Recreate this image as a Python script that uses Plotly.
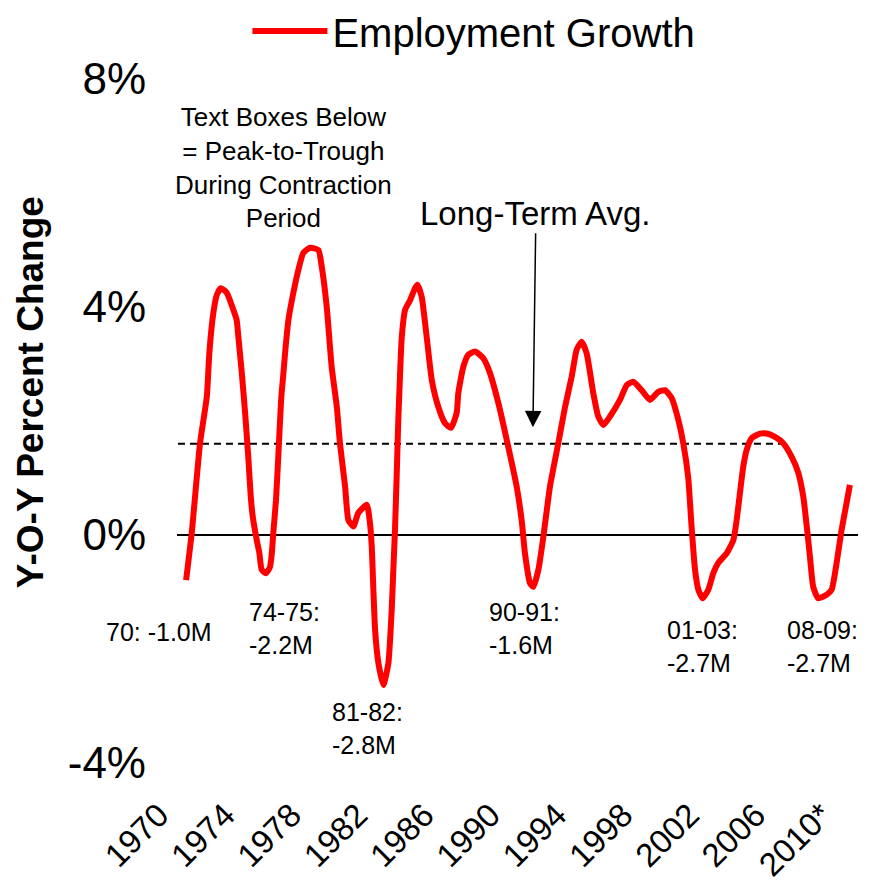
import plotly.graph_objects as go

# Year-over-year employment growth (%)
years = [
    1970.55, 1970.89, 1971.39, 1971.80, 1971.95, 1972.19, 1972.40, 1972.64, 1973.00, 1973.40,
    1973.60, 1973.70, 1973.91, 1974.11, 1974.30, 1974.45, 1974.57, 1974.81, 1974.97, 1975.11,
    1975.37, 1975.61, 1975.72, 1975.81, 1975.97, 1976.11, 1976.28, 1976.42, 1976.52, 1976.72,
    1977.02, 1977.32, 1977.62, 1978.03, 1978.53, 1978.73, 1979.03, 1979.33, 1979.64, 1979.83,
    1980.14, 1980.34, 1980.64, 1980.94, 1981.45, 1981.64, 1981.75, 1981.84, 1981.95, 1982.15,
    1982.45, 1982.75, 1982.95, 1983.05, 1983.15, 1983.25, 1983.35, 1983.45, 1983.56, 1983.76,
    1984.06, 1984.36, 1984.50, 1984.76, 1985.06, 1985.37, 1985.76, 1986.17, 1986.53, 1986.87,
    1986.97, 1987.27, 1987.57, 1987.98, 1988.48, 1988.88, 1989.38, 1989.89, 1990.49, 1990.79,
    1990.99, 1991.29, 1991.49, 1991.80, 1992.10, 1992.50, 1993.00, 1993.41, 1993.81, 1994.11,
    1994.41, 1994.71, 1995.11, 1995.41, 1995.72, 1996.12, 1996.72, 1997.13, 1997.53, 1998.03,
    1998.53, 1999.03, 1999.44, 1999.84, 2000.24, 2000.54, 2000.84, 2001.04, 2001.25, 2001.45,
    2001.71, 2002.05, 2002.35, 2002.65, 2003.16, 2003.56, 2003.76, 2003.96, 2004.16, 2004.36,
    2004.67, 2005.17, 2005.57, 2006.07, 2006.57, 2007.08, 2007.48, 2007.78, 2007.99, 2008.18,
    2008.38, 2008.68, 2009.19, 2009.49, 2009.79, 2010.09, 2010.39, 2010.59,
]
growth = [
    -0.79, 0.04, 1.61, 2.43, 3.19, 3.89, 4.21, 4.33, 4.25, 3.95,
    3.77, 3.48, 2.84, 2.14, 1.37, 0.67, 0.32, -0.09, -0.32, -0.61,
    -0.67, -0.56, -0.32, 0.04, 0.61, 1.37, 2.37, 2.84, 3.19, 3.77,
    4.25, 4.65, 4.95, 5.04, 5.00, 4.71, 4.01, 2.95, 2.25, 1.61,
    0.85, 0.26, 0.15, 0.39, 0.53, 0.21, -0.21, -0.91, -1.67, -2.25,
    -2.63, -2.25, -1.32, -0.61, 0.09, 1.02, 2.02, 2.78, 3.48, 3.95,
    4.12, 4.33, 4.39, 4.18, 3.48, 2.72, 2.25, 1.96, 1.88, 2.14,
    2.49, 2.95, 3.16, 3.22, 3.10, 2.84, 2.32, 1.67, 0.85, 0.26,
    -0.32, -0.84, -0.91, -0.61, -0.03, 0.85, 1.61, 2.25, 2.78, 3.25,
    3.39, 3.19, 2.49, 2.08, 1.93, 2.08, 2.37, 2.63, 2.69, 2.54,
    2.37, 2.51, 2.54, 2.40, 2.02, 1.61, 1.00, 0.15, -0.61, -0.96,
    -1.11, -0.96, -0.67, -0.49, -0.32, -0.09, 0.26, 0.74, 1.20, 1.49,
    1.70, 1.78, 1.78, 1.72, 1.61, 1.37, 1.09, 0.67, 0.15, -0.38,
    -0.91, -1.11, -1.05, -0.96, -0.49, 0.09, 0.56, 0.88,
]

avg_years = [1970.06, 2006.85]
avg_value = 1.6
zero_years = [1970.0, 2011.08]

tick_years = [1970, 1974, 1978, 1982, 1986, 1990, 1994, 1998, 2002, 2006, 2010]
tick_text = ["1970", "1974", "1978", "1982", "1986", "1990", "1994", "1998", "2002", "2006", "2010*"]
y_ticks = [-4, 0, 4, 8]
y_tick_text = ["-4%", "0%", "4%", "8%"]

# contraction labels: text, paper x, paper y (centre of the text block), x anchor
contraction_labels = [
    ("70: -1.0M", -0.026, 0.192, "center"),
    ("74-75:<br>-2.2M", 0.103, 0.197, "left"),
    ("81-82:<br>-2.8M", 0.225, 0.051, "left"),
    ("90-91:<br>-1.6M", 0.455, 0.197, "left"),
    ("01-03:<br>-2.7M", 0.717, 0.170, "left"),
    ("08-09:<br>-2.7M", 0.893, 0.170, "left"),
]

FONT = "Arial, Liberation Sans, sans-serif"

fig = go.Figure()

fig.add_trace(go.Scatter(
    x=zero_years, y=[0, 0], mode="lines",
    line={"color": "black", "width": 2}, showlegend=False, hoverinfo="skip",
))
fig.add_trace(go.Scatter(
    x=avg_years, y=[avg_value, avg_value], mode="lines",
    line={"color": "black", "width": 2, "dash": "7px,5px"}, showlegend=False, hoverinfo="skip",
))
fig.add_trace(go.Scatter(
    x=years, y=growth, mode="lines", name="Employment Growth",
    line={"color": "#ff0000", "width": 6, "shape": "spline", "smoothing": 0.5},
))

fig.add_annotation(
    x=0.156, y=0.871, xref="paper", yref="paper", xanchor="center", yanchor="middle",
    showarrow=False,
    text="Text Boxes Below<br>= Peak-to-Trough<br>During Contraction<br>Period",
    font={"size": 26, "color": "black", "family": FONT}, align="center",
)
fig.add_annotation(
    x=1991.47, y=1.89, text="Long-Term Avg.", showarrow=True,
    ax=3, ay=-214, arrowhead=2, arrowsize=2.2, arrowwidth=1.5, arrowcolor="black",
    font={"size": 33, "color": "black", "family": FONT},
)
for text, px, py, anchor in contraction_labels:
    fig.add_annotation(
        x=px, y=py, xref="paper", yref="paper", text=text, showarrow=False,
        xanchor=anchor, yanchor="middle", align="left",
        font={"size": 25, "color": "black", "family": FONT},
    )
# y-axis title, placed off-centre as in the original
fig.add_annotation(
    x=-0.216, y=0.542, xref="paper", yref="paper", textangle=-90, showarrow=False,
    text="<b>Y-O-Y Percent Change</b>", xanchor="center", yanchor="middle",
    font={"size": 37, "color": "black", "family": FONT},
)

fig.update_layout(
    width=861, height=879,
    template="none",
    paper_bgcolor="white", plot_bgcolor="white",
    margin={"l": 169, "r": 11, "t": 71, "b": 124, "autoexpand": False},
    font={"family": FONT, "color": "black"},
    showlegend=True,
    legend={
        "orientation": "h", "x": 0.436, "xanchor": "center", "y": 1.07, "yanchor": "middle",
        "font": {"size": 40, "family": FONT}, "itemwidth": 75, "bgcolor": "rgba(0,0,0,0)",
    },
    xaxis={
        "range": [zero_years[0], zero_years[1]], "tickvals": tick_years, "ticktext": tick_text,
        "tickangle": -45, "showgrid": False, "zeroline": False, "showline": False,
        "ticks": "", "ticklabelshift": -18, "ticklabelstandoff": 25, "automargin": False,
        "tickfont": {"size": 33, "family": FONT},
    },
    yaxis={
        "range": [-4, 8], "tickvals": y_ticks, "ticktext": y_tick_text,
        "showgrid": False, "zeroline": False, "showline": False, "ticks": "",
        "ticklabelstandoff": 30, "tickfont": {"size": 44, "family": FONT}, "automargin": False,
    },
)

fig.write_html("out.html")
